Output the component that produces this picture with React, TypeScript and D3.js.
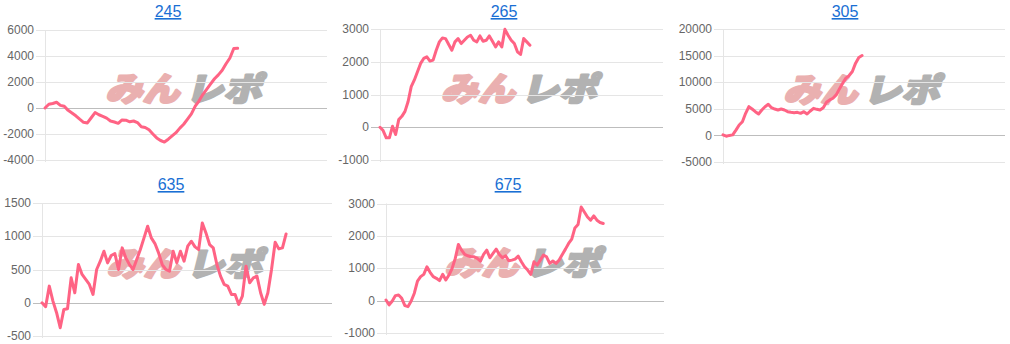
import React from "react";
import * as d3 from "d3";

// ---- data ----
const titles = ["245", "265", "305", "635", "675"];

const series245 = [
  0, 290, 350, 440, 200, 130, -180, -380, -600, -860, -1100, -1150, -750, -350,
  -520, -640, -780, -1000, -1080, -1180, -920, -940, -1060, -1000, -1120, -1440,
  -1500, -1680, -2000, -2300, -2500, -2620, -2400, -2150, -1900, -1550, -1250,
  -850, -450, 150, 550, 1050, 1450, 1850, 2250, 2550, 2900, 3400, 3850, 4580, 4590,
];

const series265 = [
  0, -101, -323, -323, 30, -222, 232, 333, 485, 788, 1242, 1444, 1697, 1949, 2101,
  2151, 2020, 2050, 2353, 2606, 2727, 2707, 2525, 2353, 2606, 2707, 2555, 2656,
  2757, 2808, 2656, 2606, 2788, 2626, 2656, 2788, 2626, 2454, 2606, 2454, 2990,
  2808, 2656, 2555, 2303, 2222, 2707, 2606, 2505,
];

const series305 = [
  100, -150, 0, 100, 1000, 1950, 2570, 4150, 5400, 4960, 4460, 4020, 4770, 5400,
  5850, 5210, 4960, 4770, 4960, 4770, 4460, 4340, 4270, 4340, 4150, 4460, 4020,
  4590, 5090, 4900, 4770, 5210, 6230, 6670, 6980, 7610, 8740, 9810, 10760, 11250,
  12000, 13580, 14650, 15020,
];

const series635 = [
  0, -60, 250, 25, -150, -375, -100, -90, 375, 150, 575, 425, 350, 275, 125, 500,
  625, 775, 600, 710, 740, 500, 825, 675, 575, 500, 650, 800, 975, 1150, 975, 890,
  750, 575, 500, 475, 775, 600, 775, 625, 850, 925, 840, 800, 1200, 1050, 875,
  825, 575, 400, 275, 250, 125, 125, -25, 100, 550, 300, 375, 400, 150, -25, 150,
  500, 910, 810, 825, 1035,
];

const series675 = [
  20, -133, -10, 155, 175, 72, -155, -185, -10, 228, 605, 740, 812, 1046, 874, 740,
  689, 617, 812, 637, 791, 997, 1304, 1735, 1560, 1427, 1385, 1354, 1354, 1304,
  1222, 1427, 1560, 1323, 1458, 1591, 1427, 1323, 1385, 1230, 1252, 1283, 1375,
  1200, 1046, 945, 812, 1200, 1098, 1252, 1406, 1354, 1150, 1222, 1150, 1252,
  1427, 1591, 1766, 1899, 2246, 2351, 2892, 2739, 2585, 2483, 2616, 2483, 2412,
  2381,
];

const allSeries = [series245, series265, series305, series635, series675];

// x-axis length (category slots spanned by the plot) per chart
const xSlots = [74.2, 91.6, 88.2, 80.6, 89.3];

const yDomains = [
  [-4000, 6000],
  [-1000, 3000],
  [-5000, 20000],
  [-500, 1500],
  [-1000, 3000],
];
const yTicks = [
  [-4000, -2000, 0, 2000, 4000, 6000],
  [-1000, 0, 1000, 2000, 3000],
  [-5000, 0, 5000, 10000, 15000, 20000],
  [-500, 0, 500, 1000, 1500],
  [-1000, 0, 1000, 2000, 3000],
];

// ---- layout (pixels) ----
const layouts = [
  { left: 45, right: 327, top: 30, bottom: 160, titleX: 168, titleY: 17 },
  { left: 380, right: 663, top: 29, bottom: 160, titleX: 504, titleY: 17 },
  { left: 723, right: 1005, top: 29, bottom: 162, titleX: 845, titleY: 17 },
  { left: 42, right: 332, top: 203, bottom: 336, titleX: 171, titleY: 190 },
  { left: 386, right: 664, top: 203.5, bottom: 333, titleX: 508, titleY: 190 },
];

const FONT = "'Liberation Sans', Arial, Helvetica, sans-serif";

function Panel({ idx }: { idx: number }) {
  const L = layouts[idx];
  const data = allSeries[idx];
  const x = d3.scaleLinear().domain([0, xSlots[idx] - 1]).range([L.left, L.right]);
  const y = d3.scaleLinear().domain(yDomains[idx]).range([L.bottom, L.top]);
  const line = d3
    .line<number>()
    .x((_, i) => x(i))
    .y((d) => y(d));
  const cx = (L.left + L.right) / 2;
  const cy = (L.top + L.bottom) / 2 - 8;
  const wm = {
    dominantBaseline: "central" as const,
    lengthAdjust: "spacingAndGlyphs" as const,
    fontFamily: "'Noto Sans CJK JP', sans-serif",
    fontWeight: 900,
    fontSize: 33,
    strokeWidth: 2.4,
    strokeLinejoin: "round" as const,
  };
  return (
    <g>
      {/* watermark */}
      <g transform={`translate(${cx},${cy}) skewX(-14)`}>
        <text x={-77} y={0} textLength={74} fill="#eab0b0" stroke="#eab0b0" {...wm}>
          みん
        </text>
        <text x={3} y={0} textLength={76} fill="#b2b2b2" stroke="#b2b2b2" {...wm}>
          レポ
        </text>
      </g>
      {/* grid */}
      {yTicks[idx].map((t) => (
        <g key={t}>
          <line
            x1={L.left - 9}
            x2={L.right}
            y1={Math.round(y(t)) + 0.5}
            y2={Math.round(y(t)) + 0.5}
            stroke={t === 0 ? "#bdbdbd" : "#e5e5e5"}
            strokeWidth={1}
          />
          <text
            x={L.left - 11}
            y={y(t)}
            dy="0.35em"
            textAnchor="end"
            fontFamily={FONT}
            fontSize={12}
            fill="#666"
          >
            {t}
          </text>
        </g>
      ))}
      <line
        x1={L.left + 0.5}
        x2={L.left + 0.5}
        y1={L.top}
        y2={L.bottom + 2}
        stroke="#e5e5e5"
      />
      <path
        d={line(data) || ""}
        fill="none"
        stroke="rgb(255,99,132)"
        strokeWidth={3}
        strokeLinejoin="round"
        strokeLinecap="round"
      />
      <text
        x={L.titleX}
        y={L.titleY}
        textAnchor="middle"
        fontFamily={FONT}
        fontSize={16}
        fill="#1a6fd4"
        style={{ textDecoration: "underline" }}
      >
        {titles[idx]}
      </text>
    </g>
  );
}

export default function App() {
  return (
    <svg
      width={1010}
      height={344}
      style={{ position: "absolute", left: 0, top: 0, background: "#fff" }}
    >
      {allSeries.map((_, i) => (
        <Panel key={i} idx={i} />
      ))}
    </svg>
  );
}
